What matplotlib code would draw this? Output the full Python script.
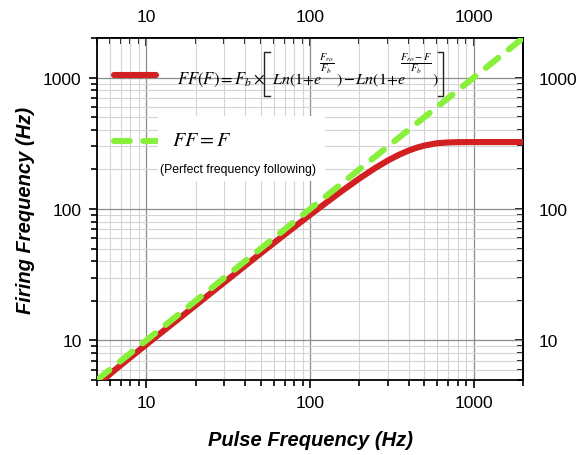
import numpy as np
import matplotlib.pyplot as plt
from matplotlib.lines import Line2D
from matplotlib.patches import Rectangle
from matplotlib.ticker import FixedLocator, LogLocator, NullFormatter, FuncFormatter

plt.rcParams['font.family'] = ['Liberation Sans', 'DejaVu Sans']
plt.rcParams['mathtext.fontset'] = 'stix'

pulse_freq = [5, 7, 10, 15, 20, 30, 50, 70, 100, 150, 200, 250, 300, 350,
              400, 450, 500, 600, 700, 800, 1000, 1500, 2000]
firing_freq = [4.6, 6.5, 9.3, 13.9, 18.5, 27.7, 46.0, 63.9, 90.2, 131.9, 170.4,
               204.8, 234.4, 258.9, 278.3, 293.0, 303.8, 316.9, 321.0, 322.5,
               323.0, 323.0, 323.0]
follow_x = [5, 2000]
follow_y = [5, 2000]
tick_vals = [10, 100, 1000]

red = '#d11f22'
green = '#88f03a'
W, H = 582, 456


def px(x, y):
    # pixel position (from top left) -> figure fraction
    return x / W, 1 - y / H


fig = plt.figure(figsize=(W / 100, H / 100), dpi=100)
ax = fig.add_axes([97 / W, 1 - 381 / H, 426 / W, 342 / H])

line_ff, = ax.plot(pulse_freq, firing_freq, color=red, lw=4.4,
                   solid_capstyle='round', zorder=3)
line_eq, = ax.plot(follow_x, follow_y, color=green, lw=4.4,
                   dashes=(2.6, 2.2), dash_capstyle='round', zorder=4)

ax.set_xscale('log')
ax.set_yscale('log')
ax.set_xlim(5, 2000)
ax.set_ylim(5, 2000)


def style_axis(axis, direction):
    axis.set_major_locator(FixedLocator(tick_vals))
    axis.set_major_formatter(FuncFormatter(lambda v, p: '%d' % v))
    axis.set_minor_locator(LogLocator(base=10, subs=np.arange(2, 10)))
    axis.set_minor_formatter(NullFormatter())
    axis.set_tick_params(which='both', direction=direction, width=1.2,
                         labelsize=12.5)
    axis.set_tick_params(which='major', length=6)
    axis.set_tick_params(which='minor', length=4)


style_axis(ax.xaxis, 'out')
style_axis(ax.yaxis, 'out')
ax.tick_params(top=False, right=False)
ax.xaxis.set_tick_params(pad=5)
ax.yaxis.set_tick_params(pad=5)

ident = (lambda v: v, lambda v: v)
top = ax.secondary_xaxis('top', functions=ident)
style_axis(top.xaxis, 'in')
top.xaxis.set_tick_params(pad=10)
right = ax.secondary_yaxis('right', functions=ident)
style_axis(right.yaxis, 'in')
right.yaxis.set_tick_params(pad=11)
for a in (ax, top, right):
    for s in a.spines.values():
        s.set_linewidth(1.3)

ax.grid(which='major', color='#8c8c8c', lw=0.9)
ax.grid(which='minor', color='#d4d4d4', lw=0.8)
ax.set_axisbelow(True)

ax.set_xlabel('Pulse Frequency (Hz)', fontsize=14.5, fontweight='bold',
              style='italic', labelpad=14)
ax.set_ylabel('Firing Frequency (Hz)', fontsize=14.5, fontweight='bold',
              style='italic', labelpad=6)

# legend samples
leg1 = ax.legend([line_ff], [' '], loc='center left',
                 bbox_to_anchor=px(114, 78), bbox_transform=fig.transFigure,
                 frameon=False, fontsize=13, handlelength=2.3, borderpad=0,
                 borderaxespad=0)
ax.add_artist(leg1)
ax.legend([line_eq], [' '], loc='center left',
          bbox_to_anchor=px(114, 144), bbox_transform=fig.transFigure,
          frameon=False, fontsize=13, handlelength=2.4, borderpad=0,
          borderaxespad=0)

# white box behind the second entry
fig.add_artist(Rectangle(px(158, 182), 167 / W, 65 / H, transform=fig.transFigure,
                         facecolor='white', edgecolor='none', zorder=2.5))

# formula of the first entry, set piece by piece
base = 84
pieces = [(177, r'$FF(F)=F_b\times$', 12),
          (272, r'$Ln(1{+}e$', 11.5),
          (336, r'$)$', 11.5),
          (343, r'$-\,Ln(1{+}e$', 11.5),
          (432, r'$)$', 11.5)]
for x, s, fs in pieces:
    fig.text(*px(x, base), s, fontsize=fs, va='baseline', zorder=6)
for x, s in ((327, r'$\dfrac{F_{ro}}{F_b}$'),
             (416, r'$\dfrac{F_{ro}-F}{F_b}$')):
    fig.text(*px(x, 64), s, fontsize=7.5, ha='center', va='center', zorder=6)
for xs, xr in ((264, 270), (443, 438)):
    fig.add_artist(Line2D([xr / W, xs / W, xs / W, xr / W],
                          [1 - 53 / H, 1 - 53 / H, 1 - 97 / H, 1 - 97 / H],
                          color='#222222', lw=1.0, transform=fig.transFigure))

fig.text(*px(172, 140), r'$FF=F$', fontsize=14.5, va='center', zorder=6)
fig.text(*px(160, 170), '(Perfect frequency following)', fontsize=8.8,
         va='center', zorder=6)

fig.savefig('out.png', dpi=100)
